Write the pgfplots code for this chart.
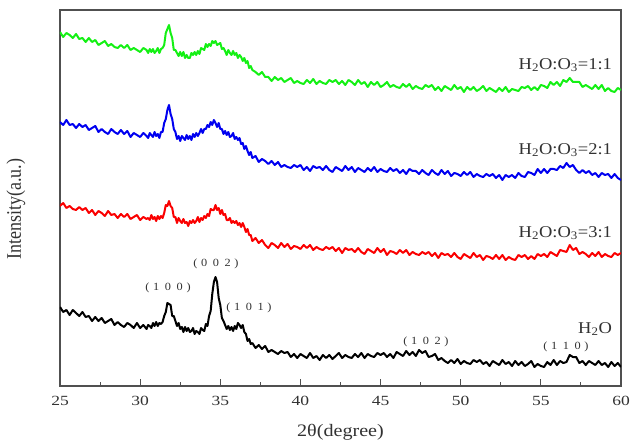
\documentclass[border=0pt]{standalone}
\usepackage{fontspec}
\setmainfont{Liberation Serif}
\usepackage{pgfplots}
\pgfplotsset{compat=1.18}

\definecolor{framegray}{RGB}{80,80,80}
\definecolor{textgray}{RGB}{50,50,50}
\definecolor{xrdgreen}{RGB}{20,240,20}
\definecolor{xrdblue}{RGB}{0,0,240}
\definecolor{xrdred}{RGB}{250,0,0}

% Miller indices, letter-spaced
\newcommand\hkl[3]{(\hspace{.3em}#1\hspace{.45em}#2\hspace{.45em}#3\hspace{.3em})}
\newcommand\ratio[1]{H\textsubscript{2}O:O\textsubscript{3}=#1}

\begin{document}
\begin{tikzpicture}
\begin{axis}[
  name=ax,
  scale only axis, width=561pt, height=376pt,
  xmin=25, xmax=60, ymin=14, ymax=390,
  xtick={25,30,...,60}, minor x tick num=1,
  ytick=\empty,
  xtick pos=left,
  tick align=inside,
  major tick length=7pt, minor tick length=4pt,
  axis line style={draw=framegray, line width=1.3pt},
  every tick/.style={framegray, line width=1.1pt},
  /pgf/number format/assume math mode=true,
  xticklabel style={font=\fontsize{14}{16}\selectfont, text=textgray, xscale=1.25, yshift=-7pt},
  xlabel={2θ(degree)},
  xlabel style={at={(axis description cs:0.5,-0.1223)}, anchor=center,
    font=\fontsize{17.5}{19}\selectfont, text=textgray, xscale=1.15},
  ylabel={Intensity(a.u.)},
  ylabel style={at={(axis description cs:-0.0784,0.47)}, anchor=center,
    font=\fontsize{18}{20}\selectfont, text=textgray, yscale=1.15},
  every axis plot/.append style={line width=2pt, line join=round},
]
% H2O
\addplot[black] coordinates {
(25,93)(25.2,88)(25.4,90)(25.6,85)(25.8,90)(26,87)(26.2,84)(26.4,88)(26.6,83)(26.8,84)(27,79)(27.2,83)(27.4,79)(27.6,82)(27.8,77)(28,79)(28.2,81)(28.4,75)(28.6,78)(28.8,75)(29,73)(29.2,77)(29.4,75)(29.6,72)(29.8,77)(30,72)(30.2,75)(30.4,71)
(30.5,75)(30.6,74)(30.7,72)(30.8,77)(30.9,74)(31,78)(31.1,74)(31.2,77)(31.3,76)(31.4,78)(31.5,84)(31.6,88)(31.7,97)(31.8,96)(31.9,95)(32,84)(32.1,84)(32.2,79)(32.3,74)(32.4,77)(32.5,71)(32.6,73)(32.7,68)(32.8,73)(32.9,69)(33,72)(33.1,68)(33.2,69)(33.3,72)(33.4,66)(33.5,69)(33.6,68)(33.7,66)(33.8,72)(33.9,70)(34,69)(34.1,76)(34.2,74)(34.3,84)(34.4,89)(34.5,106)(34.6,118)(34.7,123)(34.8,118)(34.9,102)(35,95)(35.1,82)(35.2,79)(35.3,75)(35.4,71)(35.5,74)(35.6,70)(35.7,73)(35.8,69)(35.9,74)(36,71)(36.1,77)(36.2,75)(36.3,72)(36.4,75)(36.5,68)(36.6,66)(36.7,59)(36.8,61)(36.9,56)(37,57)
(37.2,52)(37.4,55)(37.6,51)(37.8,54)(38,48)(38.2,50)(38.4,48)(38.6,46)(38.8,49)(39,47)(39.2,48)(39.4,43)(39.6,46)(39.8,42)(40,46)(40.2,44)(40.4,42)(40.6,47)(40.8,42)(41,44)(41.2,40)(41.4,45)(41.6,42)(41.8,45)(42,41)(42.2,44)(42.4,47)(42.6,42)(42.8,45)(43,43)(43.2,42)(43.4,46)(43.6,43)(43.8,47)(44,42)(44.2,46)(44.4,44)(44.6,43)(44.8,47)(45,45)(45.2,47)(45.4,43)(45.6,46)(45.8,42)(46,48)(46.2,46)(46.4,44)(46.6,49)(46.8,45)(47,48)(47.2,44)(47.4,50)(47.6,47)(47.8,49)(48,43)(48.2,44)(48.4,46)(48.6,40)(48.8,42)(49,39)(49.2,37)(49.4,40)(49.6,37)(49.8,41)(50,36)(50.2,39)(50.4,37)(50.6,36)(50.8,40)(51,38)(51.2,40)(51.4,36)(51.6,38)(51.8,34)(52,39)(52.2,37)(52.4,35)(52.6,40)(52.8,36)(53,38)(53.2,34)(53.4,39)(53.6,35)(53.8,38)(54,34)(54.2,36)(54.4,39)(54.6,33)(54.8,36)(55,34)(55.2,33)(55.4,38)(55.6,35)(55.8,40)(56,35)(56.2,39)(56.4,37)(56.6,38)(56.8,45)(57,43)(57.2,43)(57.4,37)(57.6,39)(57.8,35)(58,39)(58.2,37)(58.4,35)(58.6,39)(58.8,35)(59,37)(59.2,33)(59.4,38)(59.6,34)(59.8,37)(60,33)
};
% H2O:O3 = 3:1
\addplot[xrdred] coordinates {
(25,194)(25.2,197)(25.4,192)(25.6,194)(25.8,191)(26,190)(26.2,193)(26.4,190)(26.6,192)(26.8,187)(27,190)(27.2,185)(27.4,189)(27.6,187)(27.8,184)(28,189)(28.2,185)(28.4,186)(28.6,182)(28.8,186)(29,183)(29.2,186)(29.4,181)(29.6,183)(29.8,185)(30,180)(30.2,183)(30.4,181)
(30.5,182)(30.6,180)(30.7,185)(30.8,181)(30.9,183)(31,179)(31.1,184)(31.2,181)(31.3,184)(31.4,182)(31.5,187)(31.6,195)(31.7,194)(31.8,199)(31.9,194)(32,192)(32.1,183)(32.2,183)(32.3,177)(32.4,182)(32.5,179)(32.6,177)(32.7,181)(32.8,177)(32.9,178)(33,174)(33.1,179)(33.2,177)(33.3,180)(33.4,177)(33.5,179)(33.6,183)(33.7,178)(33.8,182)(33.9,180)(34,184)(34.1,182)(34.2,186)(34.3,184)(34.4,191)(34.5,190)(34.6,190)(34.7,195)(34.8,190)(34.9,192)(35,186)(35.1,190)(35.2,185)(35.3,186)(35.4,180)(35.5,180)(35.6,182)(35.7,177)(35.8,179)(35.9,177)(36,179)(36.1,175)(36.2,177)(36.3,173)(36.4,177)(36.5,173)(36.6,168)(36.7,171)(36.8,165)(36.9,165)(37,159)
(37.2,162)(37.4,157)(37.6,160)(37.8,155)(38,152)(38.2,157)(38.4,155)(38.6,152)(38.8,157)(39,153)(39.2,156)(39.4,151)(39.6,154)(39.8,153)(40,151)(40.2,155)(40.4,152)(40.6,155)(40.8,150)(41,153)(41.2,151)(41.4,150)(41.6,153)(41.8,151)(42,153)(42.2,149)(42.4,152)(42.6,147)(42.8,152)(43,150)(43.2,151)(43.4,148)(43.6,152)(43.8,148)(44,146)(44.2,151)(44.4,149)(44.6,147)(44.8,152)(45,148)(45.2,151)(45.4,145)(45.6,149)(45.8,148)(46,146)(46.2,150)(46.4,147)(46.6,150)(46.8,145)(47,148)(47.2,146)(47.4,145)(47.6,148)(47.8,146)(48,148)(48.2,144)(48.4,147)(48.6,142)(48.8,147)(49,145)(49.2,146)(49.4,143)(49.6,147)(49.8,143)(50,141)(50.2,146)(50.4,144)(50.6,142)(50.8,147)(51,143)(51.2,145)(51.4,140)(51.6,144)(51.8,143)(52,141)(52.2,145)(52.4,141)(52.6,145)(52.8,140)(53,143)(53.2,141)(53.4,140)(53.6,145)(53.8,143)(54,145)(54.2,141)(54.4,144)(54.6,141)(54.8,146)(55,144)(55.2,146)(55.4,143)(55.6,148)(55.8,146)(56,144)(56.2,150)(56.4,149)(56.6,148)(56.8,155)(57,150)(57.2,152)(57.4,146)(57.6,148)(57.8,146)(58,143)(58.2,147)(58.4,144)(58.6,148)(58.8,143)(59,146)(59.2,144)(59.4,143)(59.6,147)(59.8,145)(60,147)
};
% H2O:O3 = 2:1
\addplot[xrdblue] coordinates {
(25,278)(25.2,275)(25.4,280)(25.6,275)(25.8,276)(26,272)(26.2,276)(26.4,273)(26.6,275)(26.8,270)(27,272)(27.2,274)(27.4,268)(27.6,271)(27.8,268)(28,266)(28.2,271)(28.4,268)(28.6,266)(28.8,270)(29,266)(29.2,269)(29.4,263)(29.6,267)(29.8,265)(30,263)(30.2,267)(30.4,264)
(30.5,262)(30.6,267)(30.7,265)(30.8,263)(30.9,268)(31,264)(31.1,266)(31.2,262)(31.3,268)(31.4,268)(31.5,277)(31.6,281)(31.7,290)(31.8,295)(31.9,286)(32,281)(32.1,271)(32.2,268)(32.3,261)(32.4,264)(32.5,259)(32.6,264)(32.7,262)(32.8,260)(32.9,265)(33,261)(33.1,264)(33.2,260)(33.3,266)(33.4,263)(33.5,267)(33.6,264)(33.7,267)(33.8,271)(33.9,267)(34,271)(34.1,271)(34.2,275)(34.3,273)(34.4,278)(34.5,275)(34.6,280)(34.7,277)(34.8,273)(34.9,277)(35,271)(35.1,271)(35.2,266)(35.3,269)(35.4,265)(35.5,268)(35.6,263)(35.7,264)(35.8,267)(35.9,261)(36,263)(36.1,260)(36.2,262)(36.3,256)(36.4,257)(36.5,251)(36.6,254)(36.7,249)(36.8,245)(36.9,248)(37,242)
(37.2,244)(37.4,238)(37.6,241)(37.8,239)(38,236)(38.2,239)(38.4,235)(38.6,238)(38.8,233)(39,235)(39.2,233)(39.4,232)(39.6,235)(39.8,233)(40,235)(40.2,230)(40.4,233)(40.6,229)(40.8,234)(41,232)(41.2,233)(41.4,230)(41.6,234)(41.8,230)(42,228)(42.2,233)(42.4,231)(42.6,229)(42.8,234)(43,230)(43.2,233)(43.4,228)(43.6,232)(43.8,230)(44,228)(44.2,232)(44.4,229)(44.6,233)(44.8,228)(45,231)(45.2,229)(45.4,228)(45.6,232)(45.8,229)(46,231)(46.2,227)(46.4,230)(46.6,226)(46.8,231)(47,229)(47.2,229)(47.4,226)(47.6,230)(47.8,227)(48,225)(48.2,230)(48.4,227)(48.6,225)(48.8,230)(49,226)(49.2,229)(49.4,224)(49.6,227)(49.8,226)(50,224)(50.2,228)(50.4,225)(50.6,228)(50.8,223)(51,226)(51.2,224)(51.4,223)(51.6,226)(51.8,224)(52,226)(52.2,222)(52.4,225)(52.6,220)(52.8,225)(53,223)(53.2,225)(53.4,222)(53.6,227)(53.8,224)(54,223)(54.2,228)(54.4,227)(54.6,225)(54.8,231)(55,227)(55.2,231)(55.4,227)(55.6,231)(55.8,231)(56,230)(56.2,234)(56.4,232)(56.6,237)(56.8,233)(57,235)(57.2,230)(57.4,227)(57.6,230)(57.8,227)(58,229)(58.2,225)(58.4,227)(58.6,223)(58.8,227)(59,225)(59.2,226)(59.4,222)(59.6,226)(59.8,222)(60,220)
};
% H2O:O3 = 1:1
\addplot[xrdgreen] coordinates {
(25,368)(25.2,363)(25.4,367)(25.6,365)(25.8,362)(26,366)(26.2,361)(26.4,362)(26.6,358)(26.8,362)(27,358)(27.2,360)(27.4,355)(27.6,357)(27.8,359)(28,354)(28.2,356)(28.4,353)(28.6,352)(28.8,355)(29,352)(29.2,355)(29.4,350)(29.6,352)(29.8,350)(30,348)(30.2,352)(30.4,350)
(30.5,347)(30.6,351)(30.7,348)(30.8,351)(30.9,347)(31,349)(31.1,352)(31.2,347)(31.3,351)(31.4,352)(31.5,355)(31.6,367)(31.7,371)(31.8,375)(31.9,367)(32,362)(32.1,350)(32.2,350)(32.3,347)(32.4,344)(32.5,348)(32.6,344)(32.7,348)(32.8,342)(32.9,345)(33,342)(33.1,342)(33.2,347)(33.3,345)(33.4,348)(33.5,345)(33.6,349)(33.7,346)(33.8,352)(33.9,351)(34,350)(34.1,356)(34.2,353)(34.3,356)(34.4,354)(34.5,359)(34.6,357)(34.7,359)(34.8,355)(34.9,356)(35,357)(35.1,351)(35.2,352)(35.3,349)(35.4,345)(35.5,350)(35.6,347)(35.7,345)(35.8,349)(35.9,345)(36,347)(36.1,342)(36.2,345)(36.3,343)(36.4,339)(36.5,342)(36.6,337)(36.7,339)(36.8,332)(36.9,334)(37,330)
(37.2,328)(37.4,325)(37.6,328)(37.8,323)(38,323)(38.2,319)(38.4,323)(38.6,320)(38.8,322)(39,318)(39.2,320)(39.4,322)(39.6,317)(39.8,319)(40,317)(40.2,316)(40.4,320)(40.6,317)(40.8,321)(41,316)(41.2,319)(41.4,317)(41.6,316)(41.8,320)(42,318)(42.2,320)(42.4,316)(42.6,319)(42.8,315)(43,320)(43.2,318)(43.4,315)(43.6,320)(43.8,316)(44,318)(44.2,313)(44.4,318)(44.6,315)(44.8,318)(45,313)(45.2,315)(45.4,318)(45.6,313)(45.8,315)(46,313)(46.2,312)(46.4,316)(46.6,313)(46.8,316)(47,311)(47.2,314)(47.4,312)(47.6,311)(47.8,315)(48,313)(48.2,315)(48.4,310)(48.6,313)(48.8,309)(49,314)(49.2,312)(49.4,310)(49.6,315)(49.8,311)(50,313)(50.2,308)(50.4,313)(50.6,310)(50.8,313)(51,309)(51.2,311)(51.4,314)(51.6,309)(51.8,312)(52,310)(52.2,308)(52.4,312)(52.6,309)(52.8,313)(53,308)(53.2,311)(53.4,310)(53.6,309)(53.8,313)(54,312)(54.2,314)(54.4,310)(54.6,313)(54.8,310)(55,315)(55.2,314)(55.4,312)(55.6,318)(55.8,315)(56,318)(56.2,314)(56.4,320)(56.6,318)(56.8,322)(57,318)(57.2,318)(57.4,318)(57.6,313)(57.8,315)(58,313)(58.2,311)(58.4,315)(58.6,311)(58.8,315)(59,309)(59.2,312)(59.4,309)(59.6,308)(59.8,312)(60,310)
};

% sample names
\begin{scope}[every node/.style={anchor=east, text=textgray, inner sep=0pt,
    font=\fontsize{16.5}{18}\selectfont, xscale=1.12}]
  \node at (axis cs:59.45,335) {\ratio{1:1}};
  \node at (axis cs:59.45,250) {\ratio{2:1}};
  \node at (axis cs:59.45,167) {\ratio{3:1}};
  \node at (axis cs:59.45,71) {H\textsubscript{2}O};
\end{scope}

% reflections of the H2O sample
\begin{scope}[every node/.style={text=textgray, inner sep=0pt,
    font=\fontsize{11}{13}\selectfont, xscale=1.12}]
  \node at (axis cs:31.74,112) {\hkl100};
  \node at (axis cs:34.73,136) {\hkl002};
  \node at (axis cs:36.79,92) {\hkl101};
  \node at (axis cs:47.83,58) {\hkl102};
  \node at (axis cs:56.57,53) {\hkl110};
\end{scope}
\end{axis}
\pgfresetboundingbox
\path[use as bounding box] ([shift={(-60pt,-58pt)}]ax.south west)
  rectangle ([shift={(14pt,10pt)}]ax.north east);
\end{tikzpicture}
\end{document}
